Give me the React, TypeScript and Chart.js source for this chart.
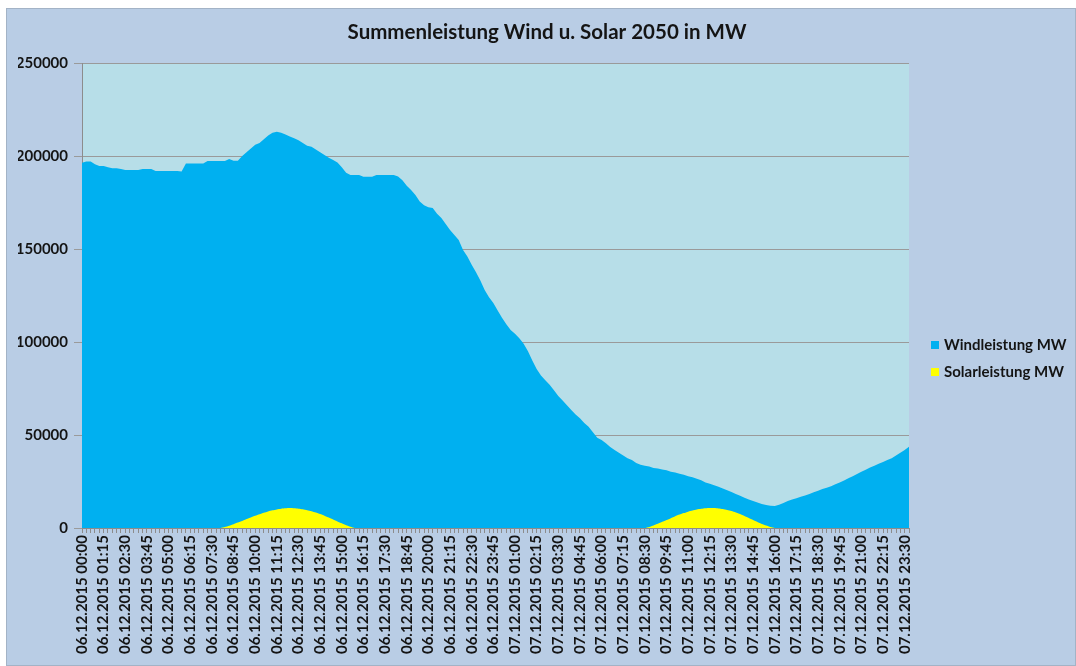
import { useEffect, useRef } from 'react';
import { Chart, registerables } from 'chart.js';

Chart.register(...registerables);

const TITLE = 'Summenleistung Wind u. Solar 2050 in MW';
const DAYS = ['06.12.2015', '07.12.2015'];
const SERIES_NAMES = ['Windleistung MW', 'Solarleistung MW'];
const SERIES_COLORS = ['#00B0F0', '#FFFF00'];
const Y_TICKS = [0, 50000, 100000, 150000, 200000, 250000];
const LABEL_EVERY = 5; // one tick label every 75 minutes (5 x 15 min)

// 15-minute categories over two days
const categories: string[] = [];
for (const d of DAYS) {
  for (let m = 0; m < 24 * 60; m += 15) {
    const hh = String(Math.floor(m / 60)).padStart(2, '0');
    const mm = String(m % 60).padStart(2, '0');
    categories.push(`${d} ${hh}:${mm}`);
  }
}

// Wind power, MW (15-minute values)
const windMW = [
  // 06.12.2015
  196400, 197000, 197000, 195500, 194600, 194600, 194000, 193400,
  193400, 193000, 192500, 192500, 192500, 192500, 193000, 193000,
  193000, 192000, 192000, 192000, 192000, 192000, 192000, 191600,
  196000, 196000, 196000, 196000, 196000, 197300, 197300, 197300,
  197300, 197300, 198400, 197500, 197500, 200000, 202000, 204000,
  206000, 207000, 209000, 211000, 212500, 213000, 212500, 211500,
  210500, 209500, 208500, 207000, 205500, 205000, 203500, 202000,
  200500, 199000, 197800, 196500, 194000, 191000, 189800, 189800,
  189800, 188900, 188900, 188900, 189800, 189800, 189800, 189800,
  189800, 189000, 187000, 184000, 181700, 179000, 175500, 173500,
  172500, 172000, 169000, 166600, 163500, 160200, 157500, 154800,
  149500, 146000, 141500, 137500, 133000, 128000, 124000, 121000,
  // 07.12.2015
  117000, 113000, 109500, 106500, 104500, 102000, 99000, 95000,
  90000, 85500, 82000, 79500, 77000, 74000, 71000, 68500,
  66000, 63500, 61000, 59000, 56500, 54500, 51500, 48500,
  47300, 45500, 43500, 42000, 40500, 39000, 37500, 36500,
  35000, 34000, 33500, 33000, 32300, 32000, 31500, 31000,
  30300, 29800, 29200, 28600, 27800, 27300, 26500, 25700,
  24500, 23800, 23000, 22200, 21300, 20300, 19300, 18300,
  17300, 16300, 15300, 14500, 13700, 12900, 12400, 12000,
  11800, 12500, 13500, 14500, 15300, 16000, 16800, 17500,
  18300, 19200, 20000, 21000, 21700, 22500, 23500, 24500,
  25500, 26700, 27800, 29000, 30200, 31300, 32500, 33500,
  34500, 35500, 36500, 37500, 39000, 40500, 42000, 43700,
];

// Solar power, MW (15-minute values)
const solarMW = [
  // 06.12.2015
  0, 0, 0, 0, 0, 0, 0, 0,
  0, 0, 0, 0, 0, 0, 0, 0,
  0, 0, 0, 0, 0, 0, 0, 0,
  0, 0, 0, 0, 0, 0, 0, 0,
  0, 500, 1200, 2000, 2900, 3800, 4800, 5700,
  6600, 7400, 8200, 8900, 9500, 10000, 10400, 10600,
  10700, 10600, 10400, 10100, 9600, 9000, 8300, 7500,
  6600, 5600, 4600, 3500, 2500, 1500, 700, 0,
  0, 0, 0, 0, 0, 0, 0, 0,
  0, 0, 0, 0, 0, 0, 0, 0,
  0, 0, 0, 0, 0, 0, 0, 0,
  0, 0, 0, 0, 0, 0, 0, 0,
  // 07.12.2015
  0, 0, 0, 0, 0, 0, 0, 0,
  0, 0, 0, 0, 0, 0, 0, 0,
  0, 0, 0, 0, 0, 0, 0, 0,
  0, 0, 0, 0, 0, 0, 0, 0,
  0, 0, 0, 600, 1400, 2300, 3300, 4300,
  5300, 6300, 7200, 8000, 8800, 9400, 9900, 10300,
  10600, 10700, 10700, 10500, 10200, 9700, 9100, 8400,
  7500, 6500, 5400, 4300, 3200, 2200, 1300, 500,
  0, 0, 0, 0, 0, 0, 0, 0,
  0, 0, 0, 0, 0, 0, 0, 0,
  0, 0, 0, 0, 0, 0, 0, 0,
  0, 0, 0, 0, 0, 0, 0, 0,
];

const FONT = 'Lato, "Open Sans", "DejaVu Sans", sans-serif';
const TEXT = '#141414';
const W = 1070;
const H = 658;

const plotBg = {
  id: 'plotBg',
  beforeDraw(chart: any) {
    const { ctx, chartArea } = chart;
    if (!chartArea) return;
    ctx.save();
    ctx.fillStyle = '#B7DEE8';
    ctx.fillRect(chartArea.left, chartArea.top, chartArea.right - chartArea.left, chartArea.bottom - chartArea.top);
    ctx.restore();
  },
};

const sideLegend = {
  id: 'sideLegend',
  afterDraw(chart: any) {
    const { ctx, chartArea } = chart;
    ctx.save();
    ctx.font = `bold 15px ${FONT}`;
    ctx.textBaseline = 'middle';
    ctx.textAlign = 'left';
    const x0 = chartArea.right + 22;
    SERIES_NAMES.forEach((name, k) => {
      const y = 337 + k * 27;
      ctx.fillStyle = SERIES_COLORS[k];
      ctx.fillRect(x0, y - 4, 8, 8);
      ctx.fillStyle = TEXT;
      ctx.fillText(name, x0 + 13, y);
    });
    ctx.restore();
  },
};

export default function App() {
  const ref = useRef<HTMLCanvasElement>(null);

  useEffect(() => {
    if (!ref.current) return;
    const chart = new Chart(ref.current, {
      type: 'line',
      data: {
        labels: categories,
        datasets: [
          {
            label: SERIES_NAMES[1],
            data: solarMW,
            backgroundColor: SERIES_COLORS[1],
            borderWidth: 0,
            pointRadius: 0,
            fill: 'origin',
            tension: 0.2,
          },
          {
            label: SERIES_NAMES[0],
            data: windMW,
            backgroundColor: SERIES_COLORS[0],
            borderWidth: 0,
            pointRadius: 0,
            fill: 'origin',
            tension: 0,
          },
        ],
      },
      options: {
        responsive: false,
        maintainAspectRatio: false,
        animation: false,
        layout: { padding: { left: 12, right: 0, top: 0, bottom: 0 } },
        plugins: {
          legend: { display: false },
          tooltip: { enabled: false },
          title: {
            display: true,
            text: TITLE,
            color: TEXT,
            font: { family: FONT, size: 20.5, weight: 'bold' },
            padding: { top: 11.7, bottom: 18.7 },
          },
        },
        scales: {
          x: {
            type: 'category',
            offset: false,
            grid: {
              display: true,
              drawOnChartArea: false,
              drawTicks: true,
              tickLength: 5,
              color: '#8c8c8c',
            },
            border: { display: true, color: '#8c8c8c', width: 1 },
            ticks: {
              autoSkip: false,
              maxRotation: 90,
              minRotation: 90,
              padding: 2,
              color: TEXT,
              font: { family: FONT, size: 15, weight: 'bold' },
              callback: (_v: any, i: number) => (i % LABEL_EVERY === 0 ? categories[i] : ''),
            },
            afterFit: (s: any) => {
              s.height = 138;
            },
          },
          y: {
            min: Y_TICKS[0],
            max: Y_TICKS[Y_TICKS.length - 1],
            afterBuildTicks: (s: any) => {
              s.ticks = Y_TICKS.map((v) => ({ value: v }));
            },
            grid: {
              color: '#9a9a9a',
              lineWidth: 1,
              drawTicks: true,
              tickLength: 8,
            },
            border: { display: true, color: '#8c8c8c', width: 1 },
            ticks: {
              padding: 6,
              color: TEXT,
              font: { family: FONT, size: 15, weight: 'bold' },
              callback: (v: any) => String(v),
            },
            afterFit: (s: any) => {
              s.width = 64;
            },
          },
          legendSpace: {
            type: 'linear',
            position: 'right',
            display: true,
            grid: { display: false, drawTicks: false },
            border: { display: false },
            ticks: { display: false },
            afterFit: (s: any) => {
              s.width = 167;
            },
          },
        },
      },
      plugins: [plotBg, sideLegend],
    } as any);
    return () => chart.destroy();
  }, []);

  return (
    <div
      style={{
        position: 'fixed',
        left: 6,
        top: 8,
        width: W,
        height: H,
        background: '#B9CDE5',
        outline: '1px solid #a3b3c6',
        outlineOffset: -1,
      }}
    >
      <canvas ref={ref} width={W} height={H} style={{ display: 'block' }} />
    </div>
  );
}
